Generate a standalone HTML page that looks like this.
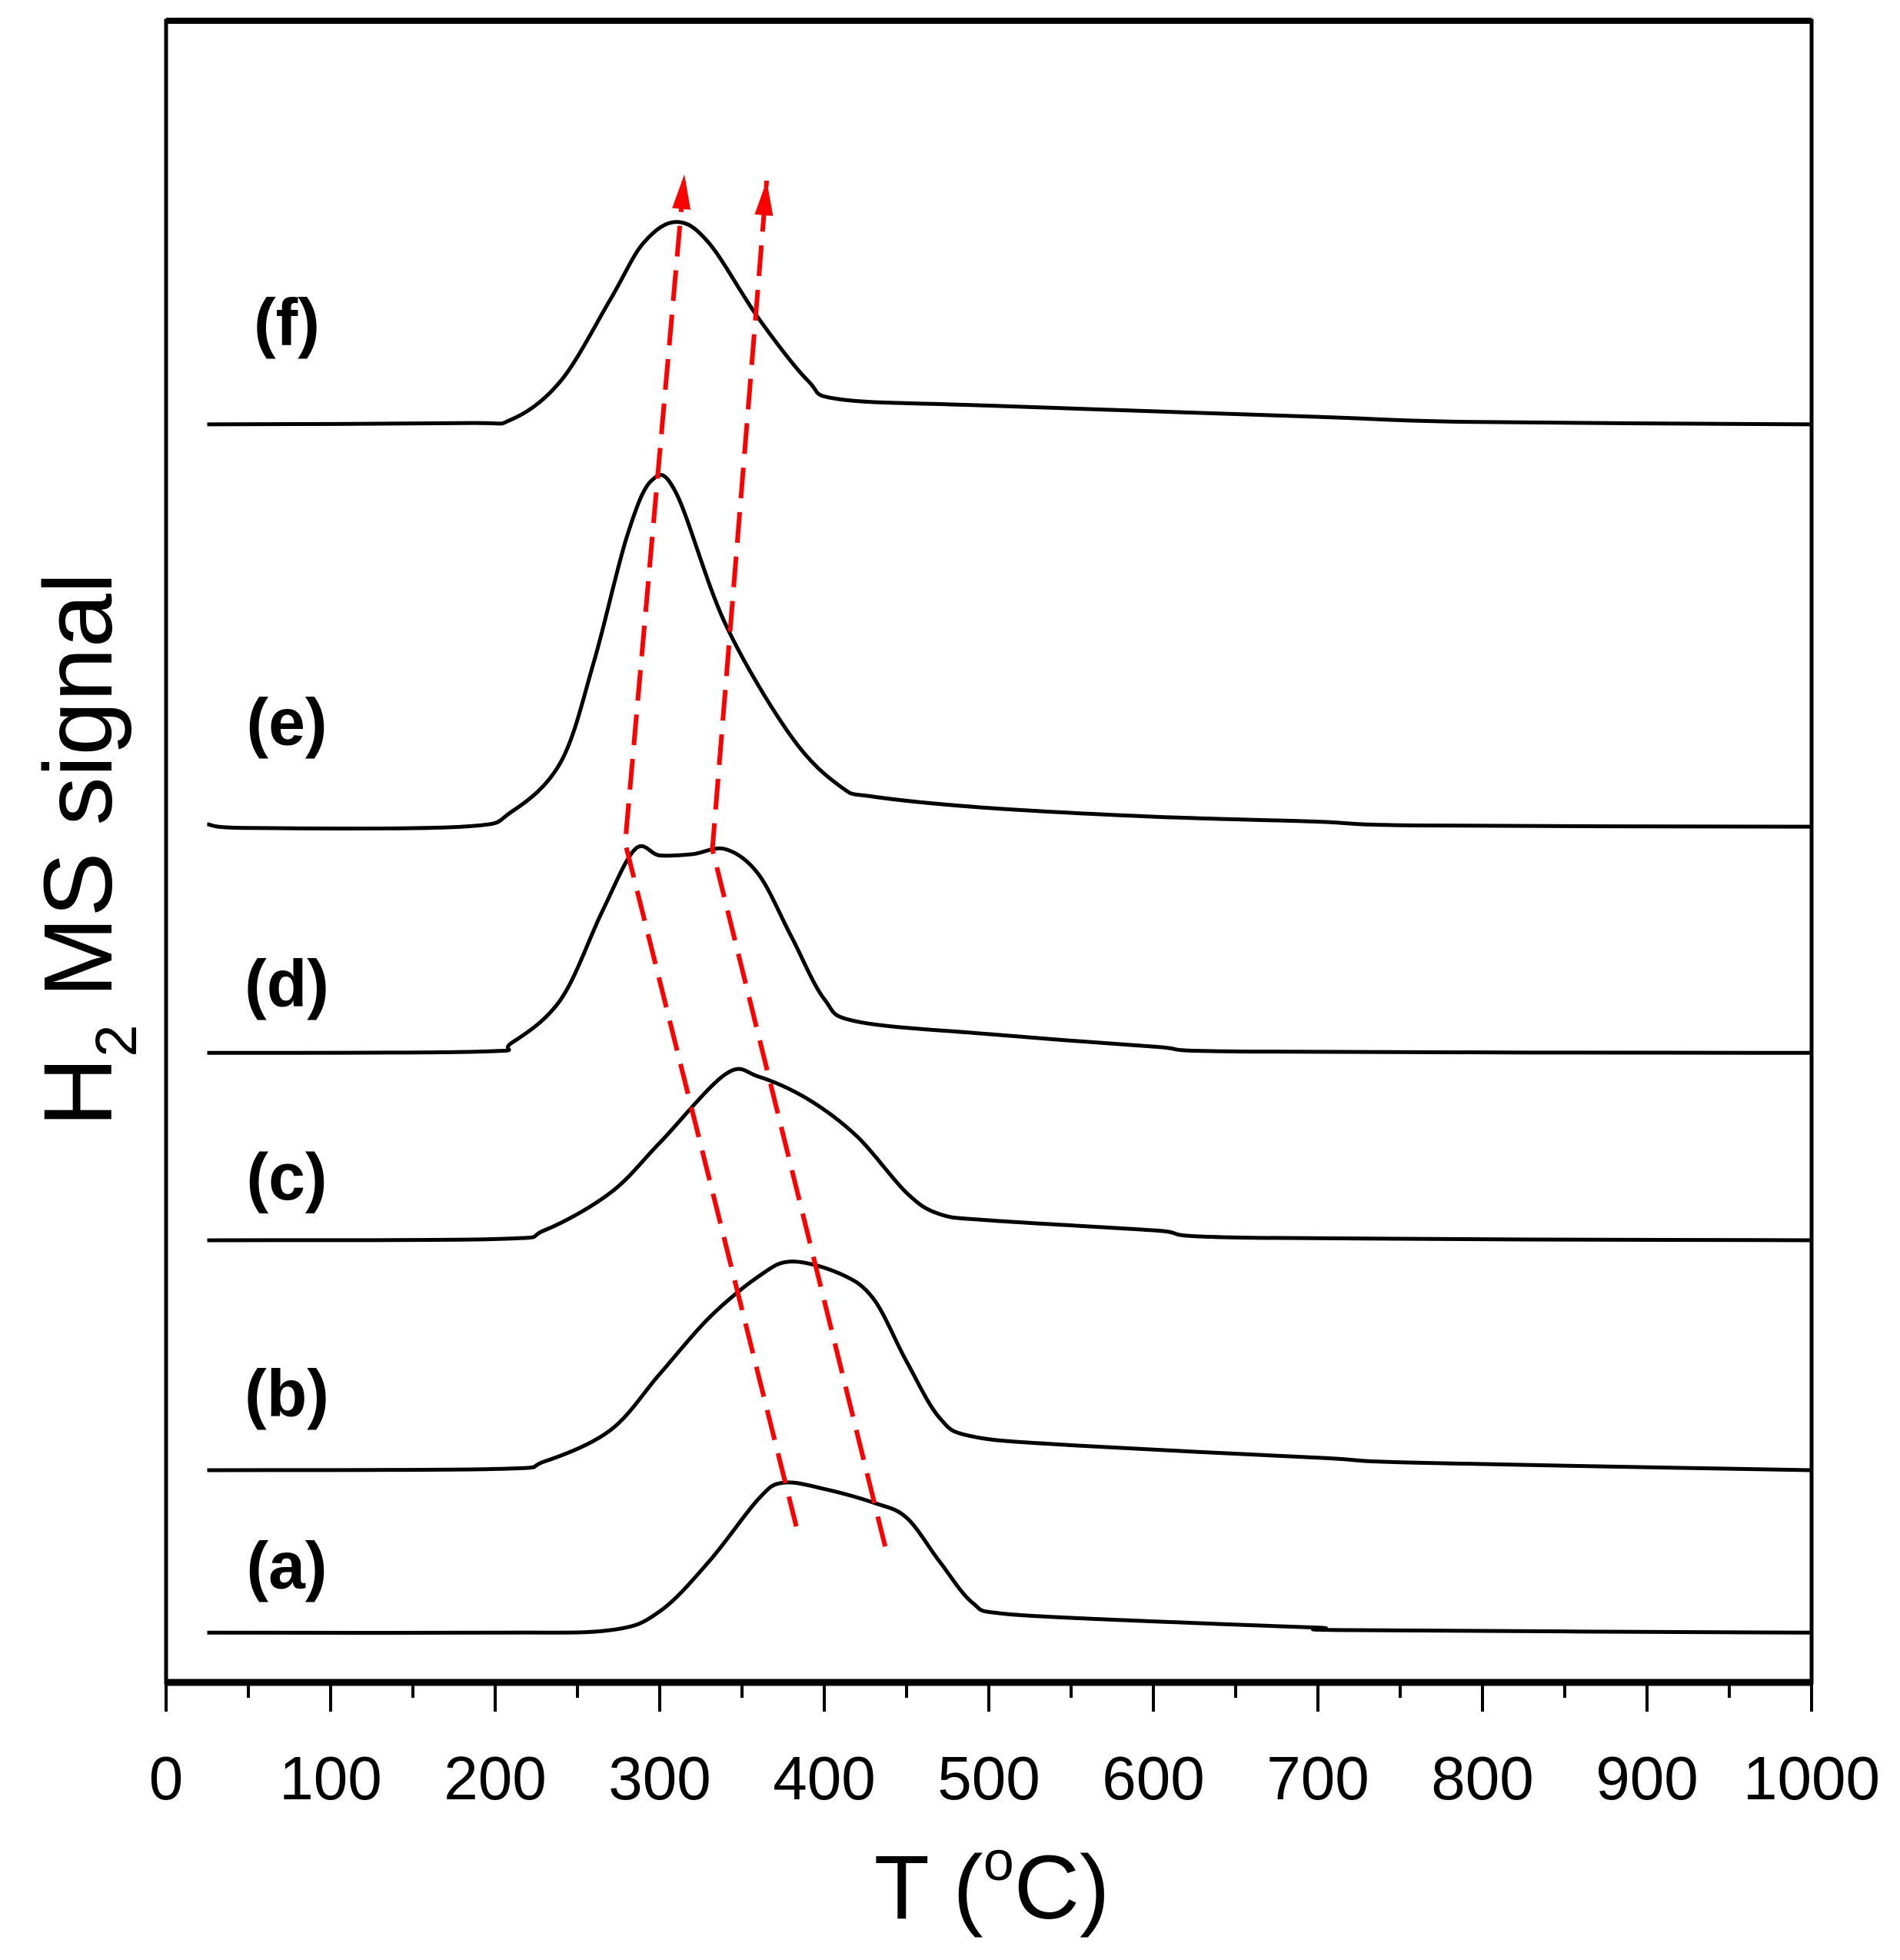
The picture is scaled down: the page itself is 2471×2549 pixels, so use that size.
<!DOCTYPE html>
<html><head><meta charset="utf-8"><style>
html,body{margin:0;padding:0;background:#fff;}
svg{display:block;}
text{font-family:"Liberation Sans",Arial,sans-serif;}
</style></head><body>
<svg id="chart" width="2471" height="2549" viewBox="0 0 2471 2549" xmlns="http://www.w3.org/2000/svg">
<g id="curves"></g>
<g id="arrows"></g>
<g id="axes"></g>
</svg>
<script>
const xTicks = [0,100,200,300,400,500,600,700,800,900,1000];
const seriesNames = ['a','b','c','d','e','f'];
const seriesOffsets = [262,392,576,726,907,1229];
const labelLevels = [316,454,627,782,991,1311];
const temps_a = [25,200,270,300,330,360,375,400,430,450,470,490,510,600,700,720,1000];
const vals_a  = [0,0,2,17,57,107,120,115,104,92,57,24,15,9,4,2,0];
const temps_b = [25,200,230,270,300,330,360,380,410,430,450,470,490,550,700,760,1000];
const vals_b  = [0,1,7,32,77,122,155,167,157,137,87,42,27,20,10,6,0];
const temps_c = [25,200,230,270,300,340,360,390,420,450,470,500,600,660,1000];
const vals_c  = [0,1,8,38,78,133,131,113,83,38,21,16,8,2,0];
const temps_d = [25,190,210,240,265,285,300,320,340,360,380,400,420,500,600,660,1000];
const vals_d  = [0,1,8,43,113,163,158,159,163,143,93,43,25,15,5,1,0];
const temps_e = [25,50,180,210,240,260,280,295,310,340,380,410,430,500,600,700,760,1000];
const vals_e  = [2,-1,0,12,52,132,232,277,267,162,72,32,24,15,8,4,1,0];
const temps_f = [25,180,210,240,270,290,310,330,360,390,410,500,700,790,1000];
const vals_f  = [0,1,4,35,100,145,162,145,85,35,20,15,6,2,0];
const arrowLeftT = [383,279,315];
const arrowLeftV = [347,894,1429];
const arrowRightT = [437,332,365];
const arrowRightV = [331,889,1424];

const L=216,R=2356,T0=27,B=2188;
const x = t => L + (t/1000)*(R-L);
const y = v => 2549 - v*1.625;
const NS='http://www.w3.org/2000/svg';
function mk(tag, attrs, parent){const e=document.createElementNS(NS,tag);for(const k in attrs)e.setAttribute(k,attrs[k]);parent.appendChild(e);return e;}
function smooth(pts){
  let d='M'+pts[0][0].toFixed(1)+','+pts[0][1].toFixed(1);
  for(let i=0;i<pts.length-1;i++){
    const p0=pts[Math.max(0,i-1)],p1=pts[i],p2=pts[i+1],p3=pts[Math.min(pts.length-1,i+2)];
    const c1=[p1[0]+(p2[0]-p0[0])/6,p1[1]+(p2[1]-p0[1])/6];
    const c2=[p2[0]-(p3[0]-p1[0])/6,p2[1]-(p3[1]-p1[1])/6];
    d+=' C'+c1[0].toFixed(1)+','+c1[1].toFixed(1)+' '+c2[0].toFixed(1)+','+c2[1].toFixed(1)+' '+p2[0].toFixed(1)+','+p2[1].toFixed(1);
  }
  return d;
}
const data={a:[temps_a,vals_a],b:[temps_b,vals_b],c:[temps_c,vals_c],d:[temps_d,vals_d],e:[temps_e,vals_e],f:[temps_f,vals_f]};
const curves=document.getElementById('curves');
const labelX=373;
seriesNames.forEach((n,i)=>{
  const [ts,vs]=data[n];const off=seriesOffsets[i];
  const pts=ts.map((t,j)=>[x(t),y(vs[j]+off)]);
  const p=mk('path',{d:smooth(pts),fill:'none',stroke:'#000','stroke-width':5,'stroke-linejoin':'round'},curves);
  
  
  const lb=mk('text',{x:labelX,y:y(labelLevels[i])+30,'font-size':86,'font-weight':'bold','text-anchor':'middle'},curves);
  lb.textContent='('+n+')';
  
  
});
const arrows=document.getElementById('arrows');
[[arrowLeftT,arrowLeftV,'left'],[arrowRightT,arrowRightV,'right']].forEach(([ts,vs,nm])=>{
  const pts=ts.map((t,j)=>[x(t),y(vs[j])]);
  const pl=mk('polyline',{points:pts.map(p=>p.join(',')).join(' '),fill:'none',stroke:'#ff0000','stroke-width':6,'stroke-dasharray':'40,18'},arrows);
  
  
  const a=pts[pts.length-2],b=pts[pts.length-1];
  const dx=b[0]-a[0],dy=b[1]-a[1],len=Math.hypot(dx,dy),ux=dx/len,uy=dy/len;
  const bx=b[0]-ux*45,by=b[1]-uy*45;
  const hd=mk('polygon',{points:`${b[0]},${b[1]} ${bx-uy*12},${by+ux*12} ${bx+uy*12},${by-ux*12}`,fill:'#ff0000'},arrows);
  
  
});
const axes=document.getElementById('axes');
let f=mk('rect',{x:L,y:T0,width:R-L,height:B-T0,fill:'none',stroke:'#000','stroke-width':5},axes);


let tb=mk('line',{x1:L,y1:B,x2:R,y2:B,stroke:'#000','stroke-width':9},axes);


let tt=mk('line',{x1:L,y1:T0,x2:R,y2:T0,stroke:'#000','stroke-width':8},axes);


for(let t=0;t<=1000;t+=50){
  const major=t%100===0;
  const tk=mk('line',{x1:x(t),y1:B,x2:x(t),y2:B+(major?38:20),stroke:'#000','stroke-width':4},axes);
  
  
}
xTicks.forEach(t=>{
  const tl=mk('text',{x:x(t),y:2340,'font-size':80,'text-anchor':'middle'},axes);
  tl.textContent=t;
  
  
});
const xt=mk('text',{x:1290,y:2495,'font-size':118,'text-anchor':'middle'},axes);
xt.innerHTML='T (<tspan font-size="72" dy="-50">o</tspan><tspan dy="50">C)</tspan>';


const yt=mk('text',{x:0,y:0,'font-size':126,'text-anchor':'middle',transform:'translate(145,1105) rotate(-90)'},axes);
yt.innerHTML='H<tspan font-size="76" dy="32">2</tspan><tspan dy="-32"> MS signal</tspan>';


</script>
</body></html>
